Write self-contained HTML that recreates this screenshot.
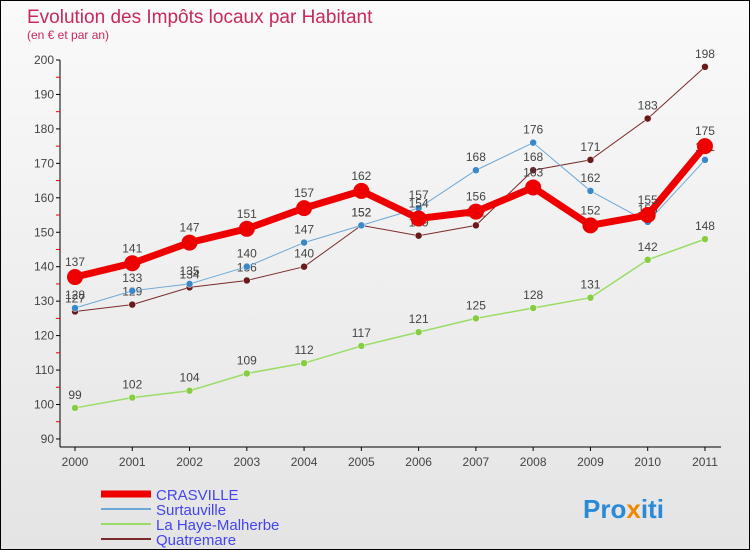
<!DOCTYPE html>
<html><head><meta charset="utf-8"><style>
body{margin:0}
#wrap{width:748px;height:548px;border:1px solid #000;background:linear-gradient(#fafafa,#e4e4e4);position:relative;overflow:hidden;font-family:"Liberation Sans",sans-serif}
</style></head><body>
<div id="wrap">
<svg id="svg" width="748" height="548"></svg>
</div>
<script>
const years=["2000","2001","2002","2003","2004","2005","2006","2007","2008","2009","2010","2011"];
const crasville=[137,141,147,151,157,162,154,156,163,152,155,175];
const surtauville=[128,133,135,140,147,152,157,168,176,162,153,171];
const laHaye=[99,102,104,109,112,117,121,125,128,131,142,148];
const quatremare=[127,129,134,136,140,152,149,152,168,171,183,198];
const yTicks=[90,100,110,120,130,140,150,160,170,180,190,200];
const NS="http://www.w3.org/2000/svg";
const svg=document.getElementById('svg');
const X=i=>74+i*57.27, Y=v=>59+(200-v)*3.445;
function el(t,a,p){const e=document.createElementNS(NS,t);for(const k in a)e.setAttribute(k,a[k]);(p||svg).appendChild(e);return e;}
function txt(x,y,s,a){const e=el('text',Object.assign({x:x,y:y},a));e.textContent=s;return e;}
let t=txt(26,22,"Evolution des Impôts locaux par Habitant",{fill:"#c8285a","font-size":19});

t=txt(26,38,"(en € et par an)",{fill:"#c8285a","font-size":12});

// axes
let a=el('line',{x1:59,y1:59,x2:59,y2:446,stroke:"#000"});
a=el('line',{x1:59,y1:446,x2:720,y2:446,stroke:"#000"});
yTicks.forEach(v=>{el('line',{x1:55,y1:Y(v),x2:59,y2:Y(v),stroke:"#000"});
 if(v<200)el('line',{x1:55,y1:Y(v+5),x2:59,y2:Y(v+5),stroke:"#e00"});
 const l=txt(53,Y(v)+4,v,{"text-anchor":"end","font-size":12,fill:"#444"});
 });
years.forEach((y,i)=>{el('line',{x1:X(i),y1:446,x2:X(i),y2:450,stroke:"#000"});
 const l=txt(X(i),465,y,{"text-anchor":"middle","font-size":12,fill:"#444"});
 });
const series=[
 {n:"quatremare",d:quatremare,c:"#7a2a2a",pc:"#6a1a1a",w:1,r:3.5},
 {n:"la-haye-malherbe",d:laHaye,c:"#99dd66",pc:"#88cc44",w:1.5,r:3.5},
 {n:"surtauville",d:surtauville,c:"#6aa8d8",pc:"#3a88c8",w:1,r:3.5},
 {n:"crasville",d:crasville,c:"#ee0000",pc:"#ee0000",w:7,r:8}];
series.forEach(s=>{const g=el('g',{});
 const p=el('polyline',{points:s.d.map((v,i)=>X(i)+","+Y(v)).join(" "),fill:"none",stroke:s.c,"stroke-width":s.w},g);
 
 s.d.forEach((v,i)=>{const c=el('circle',{cx:X(i),cy:Y(v),r:s.r,fill:s.pc,stroke:s.w>2?"none":"#fff","stroke-width":0.5},g);
  
  const l=txt(X(i),Y(v)-(s.w>2?11:9),v,{"text-anchor":"middle","font-size":12,fill:"#444"},g);
  });});
// legend
const leg=[["CRASVILLE","#ee0000",7],["Surtauville","#6aa8d8",2],["La Haye-Malherbe","#99dd66",2],["Quatremare","#7a2a2a",2]];
leg.forEach((l,i)=>{const g=el('g',{});
 const yy=493+i*15;el('line',{x1:100,y1:yy,x2:150,y2:yy,stroke:l[1],"stroke-width":l[2]},g);
 txt(155,yy+6,l[0],{"font-size":15,fill:"#4444ee"},g);});
t=txt(582,517,"Pro",{"font-size":26,fill:"#2a8ad8","font-weight":"bold"});
const ts=el('tspan',{fill:"#ee8800"},t);ts.textContent="x";
const ts2=el('tspan',{fill:"#2a8ad8"},t);ts2.textContent="iti";

</script>
</body></html>
